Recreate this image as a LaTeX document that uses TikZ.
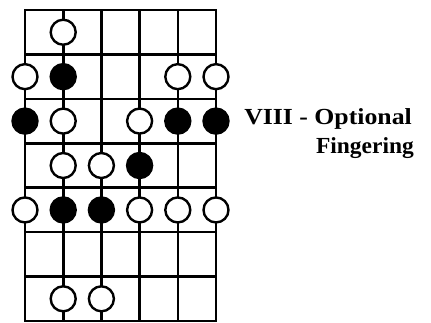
\documentclass[tikz,border=0pt]{standalone}
\usepackage{fontspec}
\setmainfont{Liberation Serif}
\begin{document}
\begin{tikzpicture}[x=1pt,y=-1pt,
  grid/.style={line width=2.6pt},
  opennote/.style={circle,draw,line width=2.4pt,fill=white,minimum size=25pt,inner sep=0pt},
  fillnote/.style={circle,draw,line width=2.4pt,fill=black,minimum size=25pt,inner sep=0pt},
  caption/.style={font=\bfseries\fontsize{23}{27}\selectfont,inner sep=0pt,anchor=base east}]
\useasboundingbox (0,0) rectangle (431,323);
% strings and frets
\foreach \i in {0,...,5} {
  \draw[grid] (25+38.2*\i,10) -- (25+38.2*\i,321);
}
\foreach \j in {0,...,7} {
  \draw[grid,line cap=rect] (25,10+44.43*\j) -- (216,10+44.43*\j);
}
% note dots: {string/row/style}
\foreach \s/\r/\k in {2/1/opennote,
  1/2/opennote,2/2/fillnote,5/2/opennote,6/2/opennote,
  1/3/fillnote,2/3/opennote,4/3/opennote,5/3/fillnote,6/3/fillnote,
  2/4/opennote,3/4/opennote,4/4/fillnote,
  1/5/opennote,2/5/fillnote,3/5/fillnote,4/5/opennote,5/5/opennote,6/5/opennote,
  2/7/opennote,3/7/opennote} {
  \node[\k] (n\s\r) at (25+38.2*\s-38.2, 10+44.43*\r-22.2) {};
}
\node[caption] (cap1) at (412,125) {\scalebox{1.12}[1]{VIII - Optional}};
\node[caption] (cap2) at (414,154) {\scalebox{1.02}[1]{Fingering}};
\end{tikzpicture}
\end{document}
